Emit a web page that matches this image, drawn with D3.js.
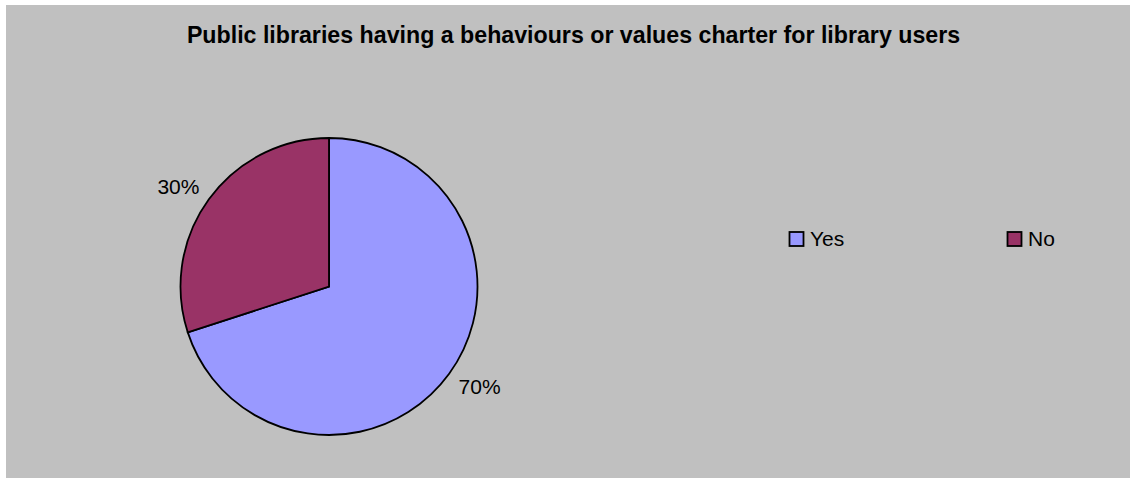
<!DOCTYPE html>
<html>
<head>
<meta charset="utf-8">
<script src="https://cdn.jsdelivr.net/npm/d3@7"></script>
<style>
  html, body { margin: 0; padding: 0; background: #ffffff; }
  svg { display: block; }
  text { font-family: "Liberation Sans", Arial, sans-serif; fill: #000; }
</style>
</head>
<body>
<svg id="chart" width="1130" height="478"></svg>
<script>
const title = "Public libraries having a behaviours or values charter for library users";
const categories = ["Yes", "No"];
const values = [70, 30];
const labels = ["70%", "30%"];
const colors = ["#9999FF", "#993366"];

const svg = d3.select("#chart");
const W = 1130, H = 478;

svg.append("rect")
  .attr("x", 6).attr("y", 5)
  .attr("width", W - 6).attr("height", H - 5)
  .attr("fill", "#C0C0C0");

svg.append("text")
  .attr("x", 573.5).attr("y", 43)
  .attr("text-anchor", "middle")
  .attr("font-weight", "bold")
  .attr("font-size", 23.2)
  .text(title);

const cx = 329, cy = 286.5, r = 148.5;
const pie = d3.pie().sort(null).value(d => d)(values);
const arc = d3.arc().innerRadius(0).outerRadius(r);
const g = svg.append("g").attr("transform", `translate(${cx},${cy})`);

g.selectAll("path").data(pie).join("path")
  .attr("d", arc)
  .attr("fill", (d, i) => colors[i])
  .attr("stroke", "#000")
  .attr("stroke-width", 1.8)
  .attr("stroke-linejoin", "miter");

// percentage labels outside the slices
const labelR = r + 32.5;
const lblPos = d => {
  const a = (d.startAngle + d.endAngle) / 2 - 0.04;
  return [labelR * Math.sin(a), -labelR * Math.cos(a)];
};
g.selectAll("text.lbl").data(pie).join("text")
  .attr("class", "lbl")
  .attr("x", d => lblPos(d)[0])
  .attr("y", d => lblPos(d)[1])
  .attr("text-anchor", "middle")
  .attr("dominant-baseline", "central")
  .attr("font-size", 21)
  .text((d, i) => labels[i]);

// legend
const legendX = d3.scalePoint().domain(categories).range([789.5, 1007.5]);
const lg = svg.append("g");
const items = lg.selectAll("g").data(categories).join("g")
  .attr("transform", d => `translate(${legendX(d)},232)`);
items.append("rect")
  .attr("width", 14).attr("height", 14)
  .attr("fill", (d, i) => colors[i])
  .attr("stroke", "#000").attr("stroke-width", 1.8);
items.append("text")
  .attr("x", 20.5).attr("y", 14.3)
  .attr("font-size", 21)
  .text(d => d);
</script>
</body>
</html>
